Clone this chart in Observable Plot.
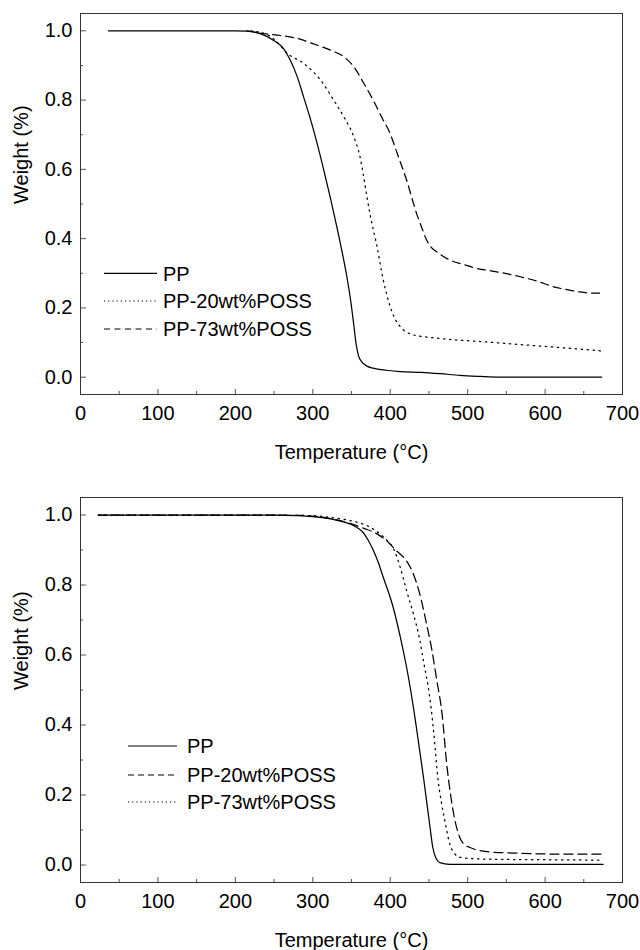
<!DOCTYPE html>
<html>
<head>
<meta charset="utf-8">
<script src="https://cdn.jsdelivr.net/npm/d3@7"></script>
<script src="https://cdn.jsdelivr.net/npm/@observablehq/plot@0.6"></script>
<style>
  body { margin: 0; background: #fff; }
  #wrap { position: relative; width: 640px; height: 950px; font-family: 'Liberation Sans', Arial, sans-serif; }
  #legend { position: absolute; left: 0; top: 0; pointer-events: none; }
</style>
</head>
<body>
<div id="wrap"></div>
<script>
// ---- axes ----
const tempTicks = [0, 100, 200, 300, 400, 500, 600, 700];
const tempMinor = [50, 150, 250, 350, 450, 550, 650];
const weightTicks = [0, 0.2, 0.4, 0.6, 0.8, 1.0];
const weightMinor = [0.1, 0.3, 0.5, 0.7, 0.9];
const xLabel = "Temperature (°C)";
const yLabel = "Weight (%)";

// ---- top panel series ----
const topNames = ["PP", "PP-20wt%POSS", "PP-73wt%POSS"];
const topPP_T = [36, 100, 150, 200, 215, 232, 249, 262, 271, 280, 288, 297, 305, 314, 323, 331, 338, 344, 349, 353, 356, 359, 363, 370, 378, 395, 413, 440, 465, 490, 516, 540, 600, 673];
const topPP_W = [1.0, 1.0, 1.0, 1.0, 0.999, 0.992, 0.973, 0.949, 0.915, 0.867, 0.81, 0.745, 0.68, 0.6, 0.515, 0.435, 0.36, 0.29, 0.22, 0.15, 0.095, 0.062, 0.045, 0.032, 0.026, 0.02, 0.016, 0.014, 0.01, 0.005, 0.002, 0, 0, 0];
const top20_T = [220, 240, 252, 267, 288, 310, 327, 340, 353, 361, 366, 370, 374, 383, 391, 400, 407, 413, 430, 460, 482, 516, 546, 580, 611, 640, 673];
const top20_W = [1.0, 0.99, 0.972, 0.935, 0.906, 0.858, 0.80, 0.752, 0.694, 0.636, 0.575, 0.52, 0.47, 0.377, 0.281, 0.204, 0.165, 0.146, 0.122, 0.113, 0.108, 0.103, 0.098, 0.092, 0.087, 0.082, 0.076];
const top73_T = [215, 236, 260, 280, 300, 323, 340, 353, 366, 378, 391, 398, 410, 421, 434, 441, 447, 453, 460, 477, 495, 512, 530, 550, 568, 590, 611, 630, 645, 660, 671];
const top73_W = [1.0, 0.992, 0.986, 0.978, 0.963, 0.944, 0.925, 0.896, 0.848, 0.80, 0.742, 0.713, 0.64, 0.57, 0.473, 0.43, 0.396, 0.375, 0.362, 0.338, 0.325, 0.314, 0.307, 0.299, 0.29, 0.277, 0.261, 0.252, 0.246, 0.243, 0.243];

// ---- bottom panel series ----
const botNames = ["PP", "PP-20wt%POSS", "PP-73wt%POSS"];
const botPP_T = [23, 100, 200, 250, 280, 300, 323, 340, 350, 358, 365, 371, 378, 385, 391, 398, 404, 409, 413, 418, 422, 426, 430, 434, 443, 451, 455, 459, 464, 477, 500, 600, 675];
const botPP_W = [1.0, 1.0, 1.0, 1.0, 0.998, 0.995, 0.989, 0.98, 0.973, 0.963, 0.95, 0.93, 0.9, 0.862, 0.822, 0.778, 0.735, 0.69, 0.652, 0.6, 0.555, 0.505, 0.45, 0.39, 0.25, 0.115, 0.05, 0.02, 0.007, 0.002, 0.002, 0.002, 0.002];
const bot20_T = [23, 100, 200, 280, 300, 323, 348, 366, 383, 396, 408, 421, 430, 438, 447, 454, 460, 467, 473, 478, 482, 490, 496, 503, 525, 560, 585, 630, 675];
const bot20_W = [1.0, 1.0, 1.0, 0.999, 0.997, 0.99, 0.976, 0.962, 0.946, 0.925, 0.898, 0.869, 0.831, 0.776, 0.688, 0.612, 0.53, 0.431, 0.288, 0.2, 0.145, 0.078, 0.058, 0.05, 0.038, 0.034, 0.032, 0.031, 0.031];
const bot73_T = [23, 100, 200, 280, 300, 323, 348, 374, 396, 404, 413, 421, 430, 438, 444, 449, 453, 456, 462, 466, 471, 477, 483, 490, 520, 600, 675];
const bot73_W = [1.0, 1.0, 1.0, 0.999, 0.998, 0.993, 0.984, 0.965, 0.927, 0.905, 0.85, 0.785, 0.717, 0.645, 0.57, 0.51, 0.445, 0.383, 0.24, 0.18, 0.122, 0.059, 0.033, 0.022, 0.017, 0.015, 0.014];

const SOLID = null, DOT = "1.4,4.6", DASH = "8,5", DASH2 = "9,5";

const topSeries = [
  {name: topNames[0], T: topPP_T, W: topPP_W, dash: SOLID, legendDash: null},
  {name: topNames[1], T: top20_T, W: top20_W, dash: DOT, legendDash: "1.2,3"},
  {name: topNames[2], T: top73_T, W: top73_W, dash: DASH, legendDash: "6,4.5"}
];
const botSeries = [
  {name: botNames[0], T: botPP_T, W: botPP_W, dash: SOLID, legendDash: null},
  {name: botNames[1], T: bot20_T, W: bot20_W, dash: DASH2, legendDash: "6,4"},
  {name: botNames[2], T: bot73_T, W: bot73_W, dash: DOT, legendDash: "1.2,3"}
];

const W = 640, ML = 80, MR = 18;
const FW = W - ML - MR;

function panel(series, height, marginTop, marginBottom, titleDy) {
  const FH = height - marginTop - marginBottom;
  return Plot.plot({
    width: W, height, marginLeft: ML, marginRight: MR, marginTop, marginBottom,
    style: {fontFamily: "'Liberation Sans', Arial, sans-serif", fontSize: "20px", color: "#000", background: "#fff", overflow: "visible"},
    x: {domain: [0, 700]},
    y: {domain: [-0.05, 1.05]},
    marks: [
      Plot.tickY(weightMinor, {y: d => d, insetRight: FW - 3, stroke: "#555"}),
      Plot.tickY(weightTicks, {y: d => d, insetRight: FW - 6, stroke: "#555"}),
      Plot.tickX(tempMinor, {x: d => d, insetTop: FH - 3, stroke: "#555"}),
      Plot.tickX(tempTicks, {x: d => d, insetTop: FH - 5, stroke: "#555"}),
      Plot.axisY({ticks: weightTicks, tickSize: 0, tickPadding: 8, tickFormat: d3.format(".1f"), label: null}),
      Plot.axisX({ticks: tempTicks, tickSize: 0, tickPadding: 11, tickFormat: d3.format("d"), label: null}),
      Plot.text([yLabel], {text: d => d, frameAnchor: "left", dx: -66.5, rotate: -90, lineAnchor: "top", fill: "#000"}),
      Plot.text([xLabel], {text: d => d, frameAnchor: "bottom", dy: titleDy, lineAnchor: "top", fill: "#000"}),
      ...series.map(s => Plot.line(d3.zip(s.T, s.W), {
        x: d => d[0], y: d => d[1], curve: "monotone-x",
        stroke: "#000", strokeWidth: 1.25, strokeDasharray: s.dash
      })),
      Plot.frame({stroke: "#333", strokeWidth: 1})
    ]
  });
}

const wrap = document.getElementById("wrap");
wrap.appendChild(panel(topSeries, 470, 13, 76, 50));
wrap.appendChild(panel(botSeries, 480, 27, 68, 50));

// legends overlay
const legendSvg = d3.select(wrap).append("svg").attr("id", "legend").attr("width", 640).attr("height", 950);
function legend(series, x0, x1, xt, ys) {
  series.forEach((s, i) => {
    legendSvg.append("line").attr("x1", x0).attr("x2", x1).attr("y1", ys[i]).attr("y2", ys[i])
      .attr("stroke", "#000").attr("stroke-width", 1.2).attr("stroke-dasharray", s.legendDash);
    legendSvg.append("text").attr("x", xt).attr("y", ys[i]).attr("dy", "0.36em")
      .attr("font-family", "'Liberation Sans', Arial, sans-serif").attr("font-size", 20).text(s.name);
  });
}
legend(topSeries, 104, 157, 163, [273.3, 301, 329]);
legend(botSeries, 128, 177, 187, [746, 775, 802]);
</script>
</body>
</html>
